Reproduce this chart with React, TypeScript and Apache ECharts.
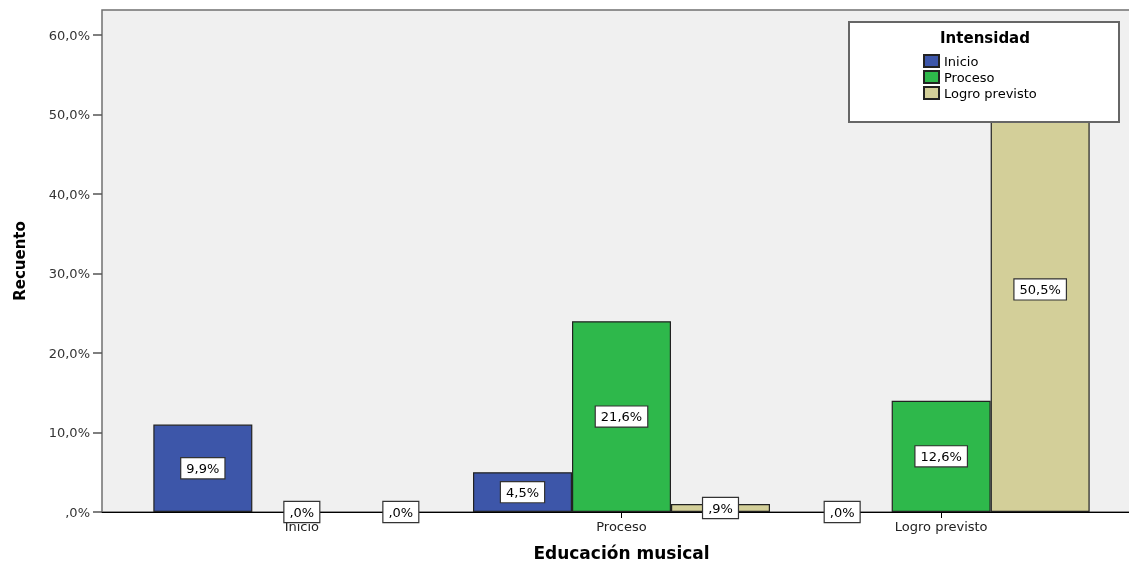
import React, { useEffect, useRef } from "react";
import * as echarts from "echarts";

const categories = ["Inicio", "Proceso", "Logro previsto"];
const seriesNames = ["Inicio", "Proceso", "Logro previsto"];
const colors = ["#3d56a9", "#2eb84b", "#d3cf99"];
// bar heights as drawn against the percent axis
const inicioValues = [11, 5, 0];
const procesoValues = [0, 24, 14];
const logroValues = [0, 1, 56];
// printed labels
const inicioLabels = ["9,9%", "4,5%", ",0%"];
const procesoLabels = [",0%", "21,6%", "12,6%"];
const logroLabels = [",0%", ",9%", "50,5%"];
const yTicks = [0, 10, 20, 30, 40, 50, 60];

const FONT = "DejaVu Sans";

export default function App() {
  const ref = useRef<HTMLDivElement>(null);
  useEffect(() => {
    if (!ref.current) return;
    const chart = echarts.init(ref.current, null, { renderer: "svg" });
    const valuesList = [inicioValues, procesoValues, logroValues];
    const labelsList = [inicioLabels, procesoLabels, logroLabels];
    const fmtY = (v: number) =>
      v === 0 ? ",0%" : v.toFixed(1).replace(".", ",") + "%";
    chart.setOption({
      animation: false,
      textStyle: { fontFamily: FONT },
      grid: [
        {
          left: 102,
          right: -3,
          top: 10,
          bottom: 52,
          show: true,
          backgroundColor: "#f0f0f0",
          borderColor: "#707070",
          borderWidth: 1.5,
          outerBoundsMode: "none",
          containLabel: false,
        },
        {
          left: 142,
          right: 28,
          top: 35,
          bottom: 52,
          outerBoundsMode: "none",
          containLabel: false,
        },
      ],
      xAxis: [
        {
          type: "value",
          gridIndex: 0,
          min: 0,
          max: 1,
          axisLine: { show: true, lineStyle: { color: "#000", width: 1 } },
          axisTick: { show: false },
          axisLabel: { show: false },
          splitLine: { show: false },
        },
        {
          type: "category",
          gridIndex: 1,
          data: categories,
          axisLine: { show: false },
          axisTick: {
            show: true,
            alignWithLabel: true,
            length: 6,
            lineStyle: { color: "#000" },
          },
          axisLabel: { fontSize: 13, color: "#222", margin: 8 },
          name: "Educación musical",
          nameLocation: "middle",
          nameGap: 32,
          nameTextStyle: {
            fontSize: 17,
            fontWeight: "bold",
            color: "#000",
            fontFamily: FONT,
          },
        },
      ],
      yAxis: [
        {
          type: "value",
          gridIndex: 0,
          min: 0,
          max: 1,
          axisLine: { show: false },
          axisTick: { show: false },
          axisLabel: { show: false },
          splitLine: { show: false },
          name: "Recuento",
          nameLocation: "middle",
          nameGap: 75,
          nameTextStyle: {
            fontSize: 15,
            fontWeight: "bold",
            color: "#000",
            fontFamily: FONT,
          },
        },
        {
          type: "value",
          gridIndex: 1,
          min: yTicks[0],
          max: yTicks[yTicks.length - 1],
          interval: 10,
          offset: 40,
          axisLine: { show: false },
          axisTick: { show: true, length: 9, lineStyle: { color: "#555", width: 1.5 } },
          axisLabel: { fontSize: 13, color: "#333", margin: 12, formatter: fmtY },
          splitLine: { show: false },
        },
      ],
      legend: {
        orient: "vertical",
        left: 923,
        top: 54,
        itemWidth: 15,
        itemHeight: 12,
        itemGap: 2,
        padding: 0,
        z: 20,
        icon: "rect",
        textStyle: { fontSize: 13, lineHeight: 14, color: "#000", fontFamily: FONT },
        data: seriesNames,
      },
      graphic: [
        {
          type: "rect",
          z: 10,
          shape: { x: 849, y: 22, width: 270, height: 100 },
          style: { fill: "#fff", stroke: "#666", lineWidth: 2 },
        },
        {
          type: "text",
          z: 21,
          x: 985,
          y: 38,
          style: {
            text: "Intensidad",
            fontSize: 15,
            fontWeight: "bold",
            fontFamily: FONT,
            fill: "#000",
            align: "center",
            verticalAlign: "middle",
          },
        },
      ],
      series: seriesNames.map((name, i) => ({
        name,
        type: "bar",
        xAxisIndex: 1,
        yAxisIndex: 1,
        data: valuesList[i].map((v) =>
          v === 0
            ? {
                value: v,
                itemStyle: { color: "transparent", borderColor: "transparent", borderWidth: 0 },
              }
            : v
        ),
        barWidth: 99,
        barGap: "0%",
        itemStyle: { color: colors[i], borderColor: "#222", borderWidth: 1.2 },
        label: {
          show: true,
          position: "inside",
          formatter: (p: any) => labelsList[i][p.dataIndex],
          backgroundColor: "#fff",
          borderColor: "#333",
          borderWidth: 1.2,
          padding: [4, 5, 3, 5],
          color: "#000",
          fontSize: 13,
          fontFamily: FONT,
        },
      })),
    });
    return () => chart.dispose();
  }, []);
  return (
    <div
      ref={ref}
      style={{ position: "fixed", left: 0, top: 0, width: 1129, height: 564 }}
    />
  );
}
